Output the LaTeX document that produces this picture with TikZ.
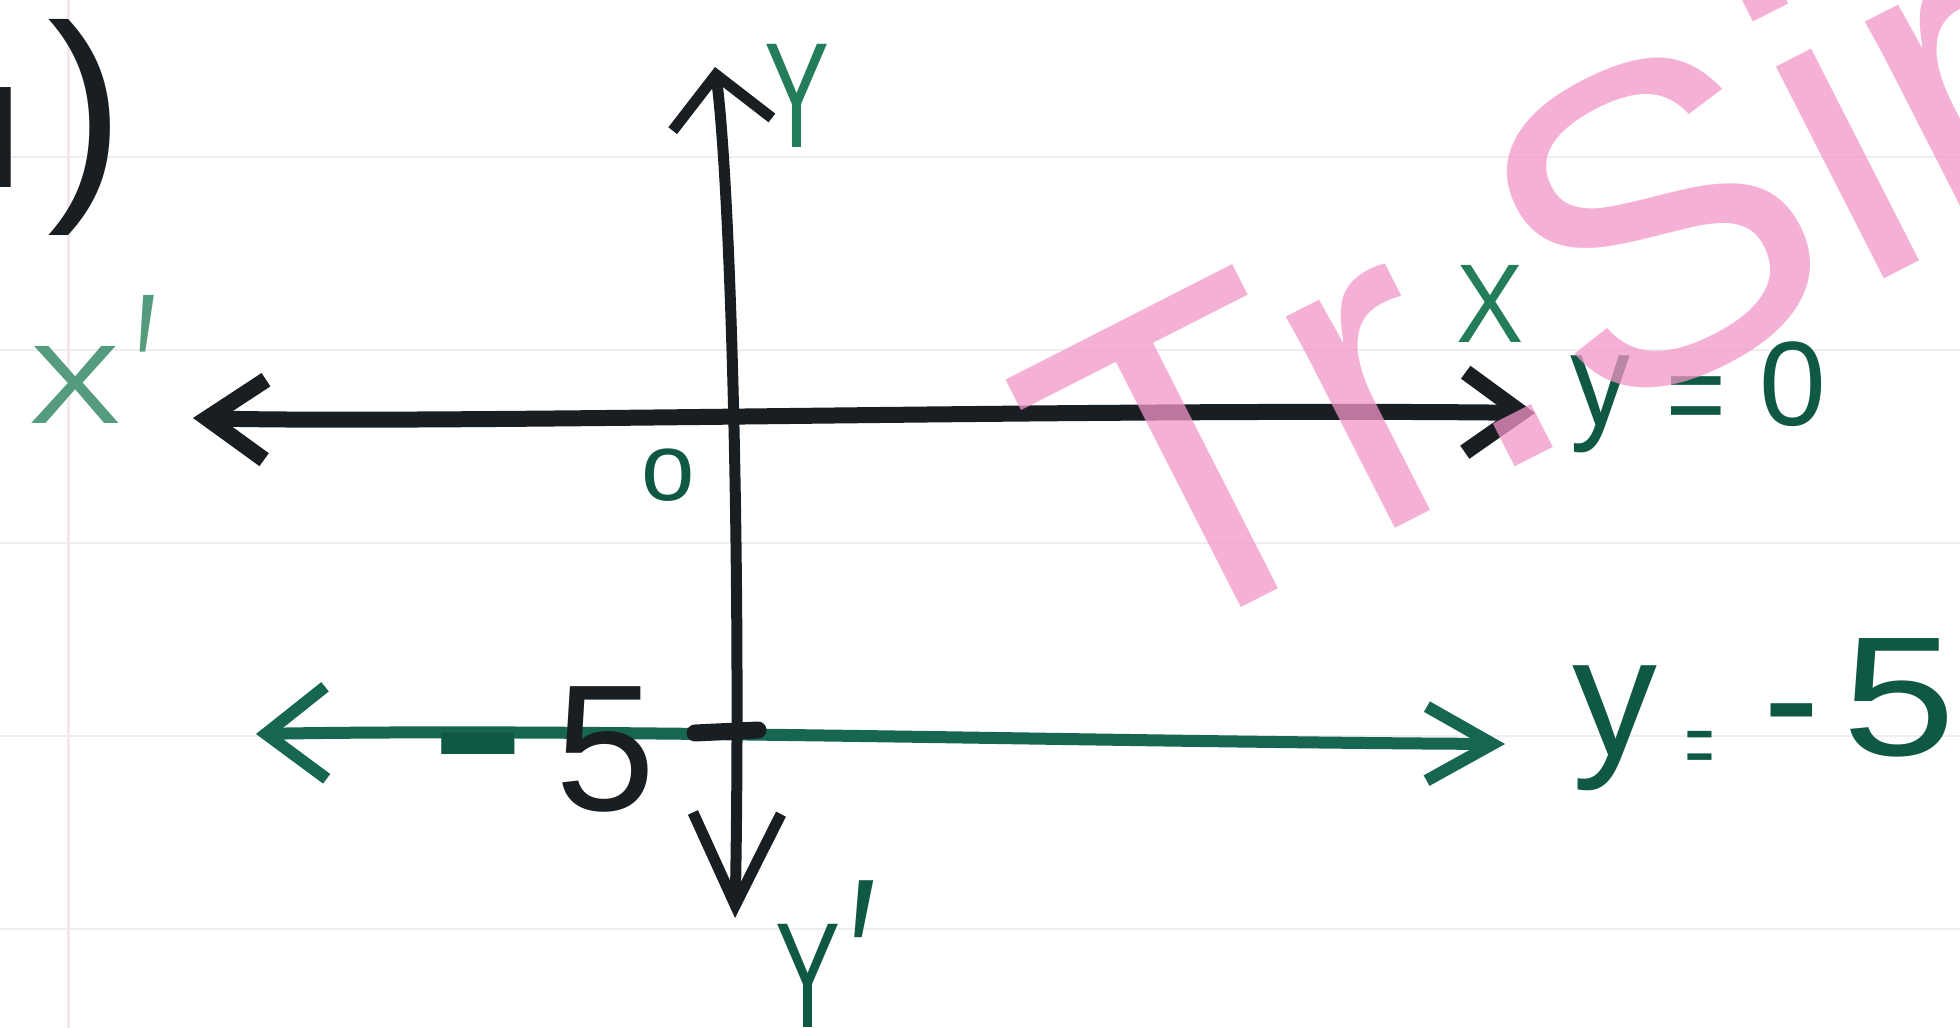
\documentclass[tikz,border=0pt]{standalone}
\usepackage{fontspec}
\usepackage{graphicx}
\setmainfont{Liberation Sans}
\newfontfamily\notofont{Noto Sans}
\usetikzlibrary{arrows.meta}
\definecolor{ink}{RGB}{25,30,35}
\definecolor{greenink}{RGB}{15,88,68}
\definecolor{greenline}{RGB}{22,102,82}
\definecolor{lightgreen}{RGB}{35,125,90}
\definecolor{palegreen}{RGB}{85,155,125}
\definecolor{wmpink}{RGB}{242,150,200}
\definecolor{ruleline}{RGB}{238,238,240}
\definecolor{marginline}{RGB}{243,232,239}
\begin{document}
\begin{tikzpicture}[x=1pt,y=-1pt,
  lab/.style={inner sep=0pt,outer sep=0pt},
  pen/.style={line cap=round,line join=round},
  fs/.style={font=\fontsize{#1pt}{#1pt}\selectfont}]
\useasboundingbox (0,0) rectangle (1960,1028);
\fill[white] (0,0) rectangle (1960,1028);
% faint ruled paper
\foreach \yy in {157,350,543,736,929}
  \draw[ruleline,line width=2.5pt] (0,\yy) -- (1960,\yy);
\draw[marginline,line width=3pt] (68,0) -- (68,1028);
% end points
\coordinate (yt) at (715,67);
\coordinate (yb) at (735,918);
\coordinate (xl) at (193,418);
\coordinate (xr) at (1535,413);
\coordinate (gl) at (256,734);
\coordinate (gr) at (1505,744);
\coordinate (tl) at (695,733);
\coordinate (tr) at (758,730);
% green line y=-5
\draw[greenline,line width=12pt,pen,
  {Straight Barb[length=60pt,width=92pt]}-{Straight Barb[length=66pt,width=74pt]}]
  (gl) .. controls (600,728) and (1100,742) .. (gr);
% y axis
\draw[ink,line width=11pt,pen,
  {Straight Barb[length=50pt,width=100pt]}-{Straight Barb[length=92pt,width=88pt]}]
  (yt) .. controls (732,200) and (741,600) .. (yb);
% x axis
\draw[ink,line width=16pt,pen,
  {Straight Barb[length=58pt,width=80pt]}-{Straight Barb[length=56pt,width=80pt]}]
  (xl) .. controls (450,424) and (1100,408) .. (xr);
% mark on the green line
\draw[ink,line width=17pt,line cap=round] (tl) -- (tr);
% labels
\node[lab,anchor=base west,fs=232,text=ink] (paren) at (-38,187)
  {{\notofont\fontsize{140pt}{140pt}\selectfont 1}\kern5pt)};
\node[lab,anchor=base west,fs=112,text=palegreen] (xprime) at (28,423)
  {\scalebox{1.25}[1]{X}\kern14pt\raisebox{-26pt}{\scalebox{1}[2]{′}}};
\node[lab,anchor=base,fs=150,text=lightgreen] (ylab) at (797,147) {\scalebox{0.65}[1]{Y}};
\node[lab,anchor=base,fs=96,text=greenink] (olab) at (668,500) {o};
\node[lab,anchor=base,fs=112,text=lightgreen] (xlab) at (1490,342) {\scalebox{0.9}[1]{X}};
\node[lab,anchor=base west,fs=120,text=greenink] (eqa) at (1570,425)
  {\scalebox{1}[1.1]{y}\kern36pt\raisebox{-10pt}{\scalebox{0.85}[1]{=}}\kern34pt0};
\node[lab,anchor=base west,fs=170,text=greenink] (eqb) at (1572,755)
  {y\kern28pt{\fontsize{90pt}{90pt}\selectfont\raisebox{-20pt}{\scalebox{0.55}[1]{=}}}\kern50pt-\kern22pt\scalebox{1.2}[1]{5}};
\node[lab,anchor=base west,fs=180,text=ink] (mfive) at (430,810)
  {\raisebox{20pt}{\textcolor{greenink}{\scalebox{1.6}[1]{\bfseries -}}}\kern30pt 5};
\node[lab,anchor=base west,fs=150,text=greenink] (yprime) at (775,1027)
  {\scalebox{0.65}[1]{Y}\kern8pt\raisebox{-8pt}{\scalebox{1}[1.5]{′}}};
% watermark
\node[lab,anchor=base west,rotate=27,fs=450,text=wmpink,text opacity=0.75] (wm) at (1137,660) {Tr.Sir};
\end{tikzpicture}
\end{document}
